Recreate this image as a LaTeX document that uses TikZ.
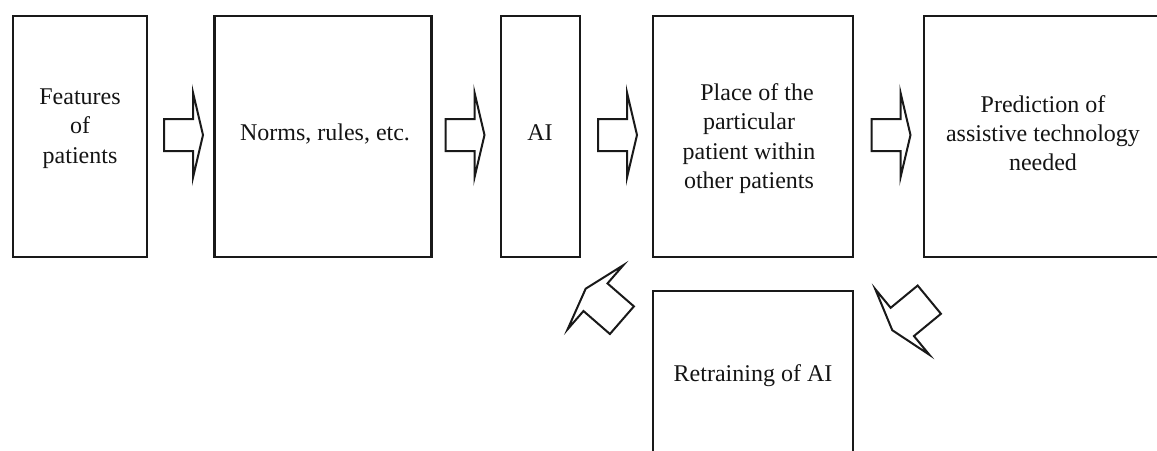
\documentclass[tikz,border=0pt]{standalone}
\usepackage{fontspec}
\setmainfont{Liberation Serif}
\begin{document}
\begin{tikzpicture}[x=0.75pt,y=-0.75pt,
  ink/.style={draw=black!90},
  box/.style={ink, line width=1.8pt, inner sep=0pt, outer sep=0pt},
  label/.style={font=\fontsize{18}{22}\selectfont, align=center, inner sep=0pt, text=black!92},
  arrowline/.style={ink, line width=1.5pt, line join=miter, fill=white},
  % block arrow of the main chain, pointing along +x, origin at shaft centre
  flowarrow/.pic={
    \path[arrowline] (-14.5,-16) -- (14.5,-16) -- (14.5,-42.5) -- (24.5,0)
      -- (14.5,42.5) -- (14.5,16) -- (-14.5,16) -- cycle;},
  % slightly larger block arrow used for the feedback loop
  looparrow/.pic={
    \path[arrowline] (-17.5,-18.3) -- (17.5,-18.3) -- (17.5,-42.5) -- (30.5,0)
      -- (17.5,42.5) -- (17.5,18.3) -- (-17.5,18.3) -- cycle;}
]
\useasboundingbox (0,0) rectangle (1157,450);
\clip (0,0) rectangle (1157,450);

% boxes
\node[box, minimum width={134*0.75pt}, minimum height={241*0.75pt}] (features) at (80,136.5) {};
\node[box, minimum width={217*0.75pt}, minimum height={241*0.75pt}] (norms) at (323,136.5) {};
\node[box, minimum width={79*0.75pt},  minimum height={241*0.75pt}] (ai) at (540.5,136.5) {};
\node[box, minimum width={200*0.75pt}, minimum height={241*0.75pt}] (place) at (753,136.5) {};
\node[box, minimum width={238*0.75pt}, minimum height={241*0.75pt}] (predict) at (1043,136.5) {};
\node[box, minimum width={200*0.75pt}, minimum height={164*0.75pt}] (retrain) at (753,373) {};

% texts
\node[label] (featurestext) at (80,128.5) {Features\\of\\patients};
\node[label] (normstext) at (325,134.5) {Norms, rules, etc.};
\node[label] (aitext) at (540,133) {AI};
\node[label] (placetext) at (749,138.5) {\hspace*{12pt}Place of the\\particular\\patient within\\other patients};
\node[label] (predicttext) at (1043,133) {Prediction of\\assistive technology\\needed};
\node[label] (retraintext) at (753,376) {Retraining of AI};

% main chain arrows
\pic (a1) at (178.5,135) {flowarrow};
\pic (a2) at (460,135) {flowarrow};
\pic (a3) at (612.5,135) {flowarrow};
\pic (a4) at (886,135) {flowarrow};

% feedback loop arrows
\pic[rotate=219.5] (l1) at (915.8,310.8) {looparrow};
\pic[rotate=139] (l2) at (608.7,308.7) {looparrow};
\end{tikzpicture}
\end{document}
